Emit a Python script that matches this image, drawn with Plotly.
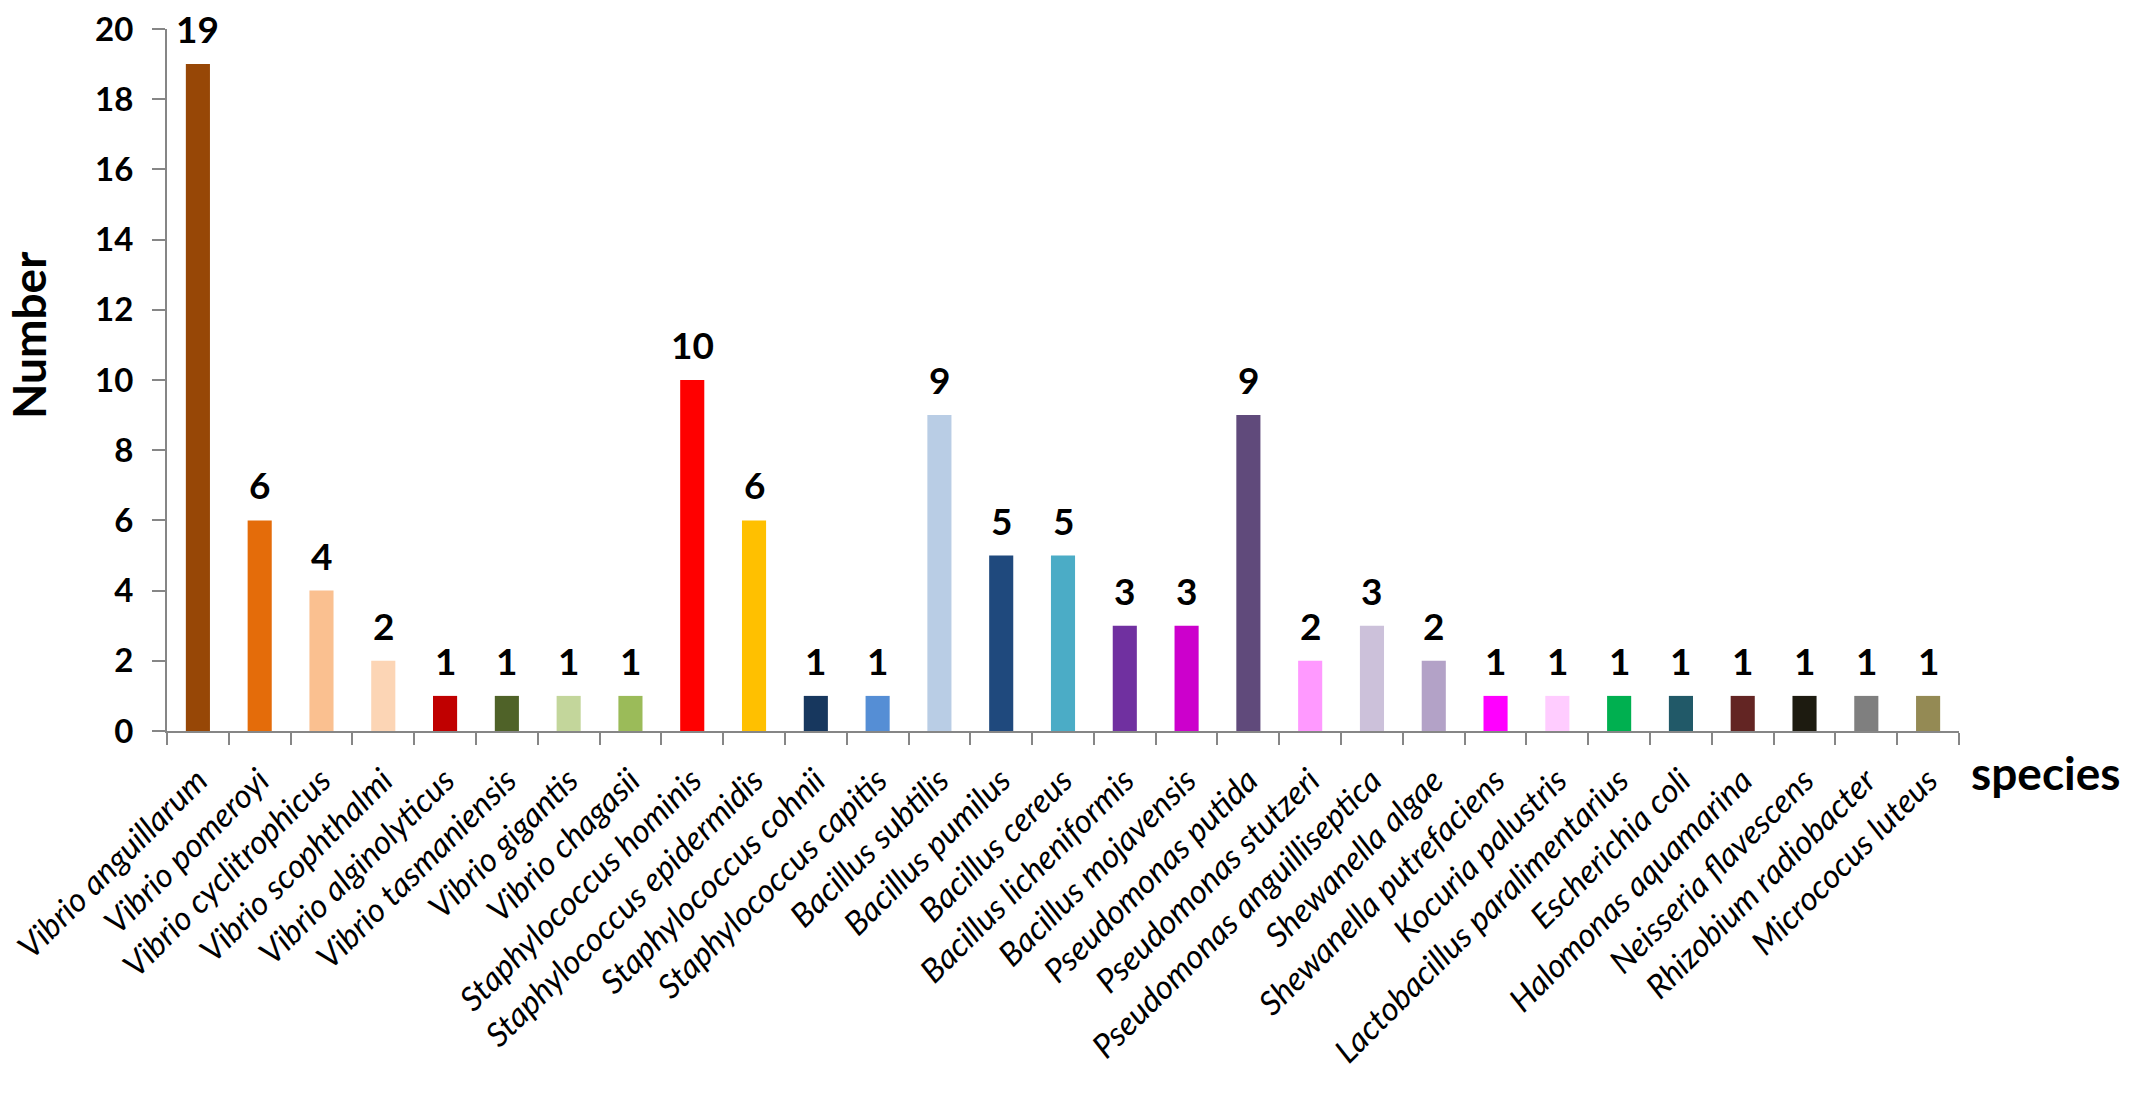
import plotly.graph_objects as go

species = [
    "Vibrio anguillarum", "Vibrio pomeroyi", "Vibrio cyclitrophicus", "Vibrio scophthalmi",
    "Vibrio alginolyticus", "Vibrio tasmaniensis", "Vibrio gigantis", "Vibrio chagasii",
    "Staphylococcus hominis", "Staphylococcus epidermidis", "Staphylococcus cohnii",
    "Staphylococcus capitis", "Bacillus subtilis", "Bacillus pumilus", "Bacillus cereus",
    "Bacillus licheniformis", "Bacillus mojavensis", "Pseudomonas putida",
    "Pseudomonas stutzeri", "Pseudomonas anguilliseptica", "Shewanella algae",
    "Shewanella putrefaciens", "Kocuria palustris", "Lactobacillus paralimentarius",
    "Escherichia coli", "Halomonas aquamarina", "Neisseria flavescens",
    "Rhizobium radiobacter", "Micrococus luteus",
]
counts = [19, 6, 4, 2, 1, 1, 1, 1, 10, 6, 1, 1, 9, 5, 5, 3, 3, 9, 2, 3, 2, 1, 1, 1, 1, 1, 1, 1, 1]
colors = [
    "#974706", "#E46C0A", "#FAC090", "#FCD5B5", "#C00000", "#4F6228", "#C3D69B", "#9BBB59",
    "#FF0000", "#FFC000", "#17375E", "#558ED5", "#B9CDE5", "#1F497D", "#4BACC6",
    "#7030A0", "#CC00CC", "#604A7B", "#FF99FF", "#CCC1DA", "#B3A2C7",
    "#FF00FF", "#FFCCFF", "#00B050", "#215968", "#632523", "#1D1B10", "#7F7F7F", "#948A54",
]
y_ticks = [0, 2, 4, 6, 8, 10, 12, 14, 16, 18, 20]

FONT = "Lato"

fig = go.Figure(go.Bar(
    x=species, y=counts, marker=dict(color=colors, line=dict(width=0)),
    width=0.39, hoverinfo="x+y",
))

for s, c in zip(species, counts):
    fig.add_annotation(
        x=s, y=c, text=str(c), showarrow=False, yanchor="bottom", yshift=11,
        font=dict(family=FONT, size=37, color="black", weight="bold"),
    )

fig.add_annotation(
    xref="paper", yref="paper", x=-0.0776, y=0.564, text="Number", textangle=-90,
    xanchor="center", yanchor="middle",
    showarrow=False, font=dict(family=FONT, size=46, color="black", weight="bold"),
)
fig.add_annotation(
    xref="paper", yref="paper", x=1.0486, y=-0.0598, text="species",
    xanchor="center", yanchor="middle",
    showarrow=False, font=dict(family=FONT, size=46, color="black", weight="bold"),
)

fig.update_layout(
    width=2117, height=1081,
    margin=dict(l=159, r=166, t=21, b=358),
    plot_bgcolor="white", paper_bgcolor="white",
    showlegend=False,
)
fig.update_xaxes(
    type="category", showline=True, linecolor="#868686", linewidth=2,
    ticks="outside", ticklen=12, tickcolor="#868686", tickwidth=2,
    tickson="boundaries", tickangle=-45, showgrid=False, automargin=False,
    ticklabelstandoff=15,
    tickfont=dict(family=FONT, size=33, color="black", style="italic"),
)
fig.update_yaxes(
    range=[0, 20.0001], tickvals=y_ticks, ticktext=[str(v) for v in y_ticks],
    showline=True, linecolor="#868686", linewidth=2, automargin=False,
    ticks="outside", ticklen=13, tickcolor="#868686", tickwidth=2, showgrid=False,
    zeroline=False, ticklabelstandoff=12, ticklabeloverflow="allow",
    tickfont=dict(family=FONT, size=33, color="black", weight="bold"),
)

fig.write_html("out.html")
